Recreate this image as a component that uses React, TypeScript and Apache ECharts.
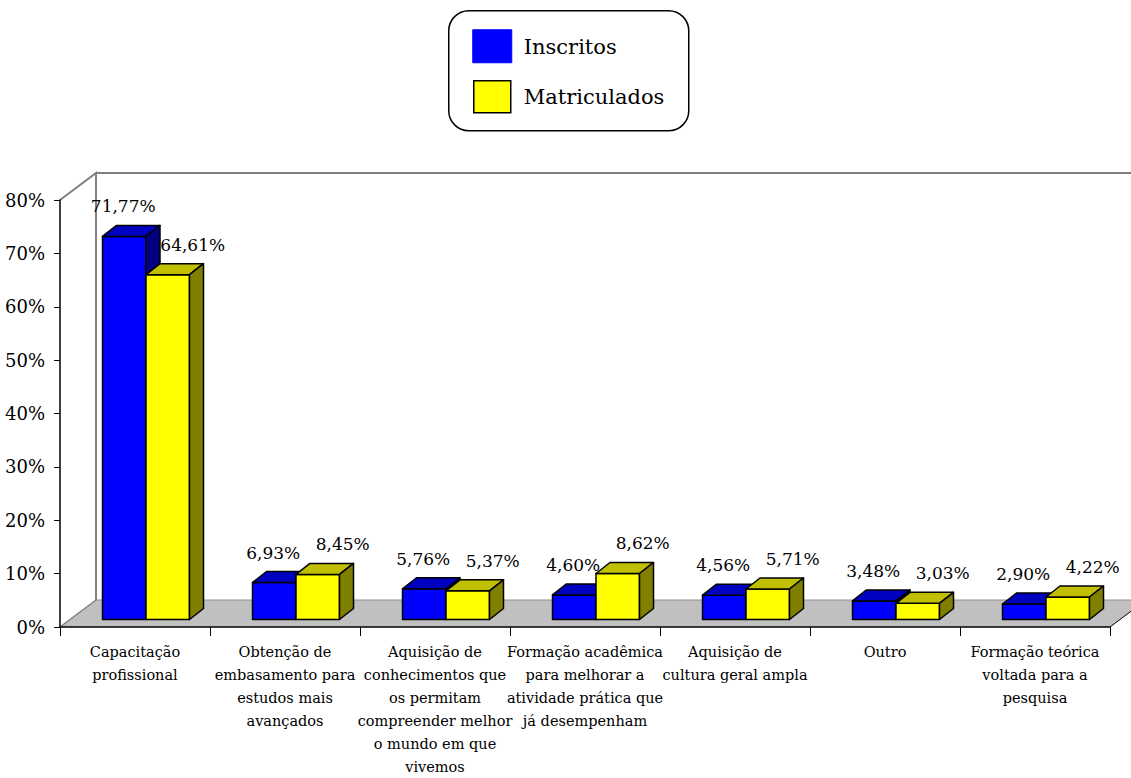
import React, { useEffect, useRef } from "react";
import * as echarts from "echarts";

const categories = [
  "Capacitação\nprofissional",
  "Obtenção de\nembasamento para\nestudos mais\navançados",
  "Aquisição de\nconhecimentos que\nos permitam\ncompreender melhor\no mundo em que\nvivemos",
  "Formação acadêmica\npara melhorar a\natividade prática que\njá desempenham",
  "Aquisição de\ncultura geral ampla",
  "Outro",
  "Formação teórica\nvoltada para a\npesquisa",
];
const inscritos = [71.77, 6.93, 5.76, 4.6, 4.56, 3.48, 2.9];
const matriculados = [64.61, 8.45, 5.37, 8.62, 5.71, 3.03, 4.22];
const seriesNames = ["Inscritos", "Matriculados"];
const yTicks = { min: 0, max: 80, interval: 10 };

const FONT = "DejaVu Serif";

const palettes = [
  { front: "#0000FF", top: "#0000C0", side: "#000080" },
  { front: "#FFFF00", top: "#C0C000", side: "#808000" },
];

function fmt(v: number) {
  return v.toFixed(2).replace(".", ",") + "%";
}

function makeBarRender(k: number) {
  return (params: any, api: any) => {
    const idx = api.value(0);
    const val = api.value(1);
    const base = api.coord([idx, 0]);
    const topP = api.coord([idx, val]);
    const c = base[0];
    const lift = 7.5;
    const bw = 43.5;
    const x1 = c - 32.5 + k * bw;
    const x2 = x1 + bw;
    const yb = base[1] - lift;
    const yt = topP[1] - lift;
    const dx = 14;
    const dy = -11;
    const pal = palettes[k];
    const stroke = { stroke: "#000", lineWidth: 1.5, lineJoin: "round" };
    const labelX = k === 0 ? (x1 + x2) / 2 - 1 : (x1 + x2) / 2 + 25;
    return {
      type: "group",
      children: [
        {
          type: "polygon",
          shape: { points: [[x1, yt], [x2, yt], [x2, yb], [x1, yb]] },
          style: { fill: pal.front, ...stroke },
        },
        {
          type: "polygon",
          shape: { points: [[x1, yt], [x2, yt], [x2 + dx, yt + dy], [x1 + dx, yt + dy]] },
          style: { fill: pal.top, ...stroke },
        },
        {
          type: "polygon",
          shape: { points: [[x2, yt], [x2 + dx, yt + dy], [x2 + dx, yb + dy], [x2, yb]] },
          style: { fill: pal.side, ...stroke },
        },
        {
          type: "text",
          style: {
            text: fmt(val),
            x: labelX,
            y: yt - 30,
            align: "center",
            verticalAlign: "middle",
            textAlign: "center",
            textVerticalAlign: "middle",
            fontSize: 17,
            fontFamily: FONT,
            fill: "#000",
          },
        },
      ],
    };
  };
}

function frameRender(params: any, api: any) {
  const cs = params.coordSys;
  const x0 = cs.x;
  const y0 = cs.y;
  const w = cs.width;
  const h = cs.height;
  const dx = 36;
  const dy = -27;
  const yB = y0 + h;
  const gray = "#808080";
  return {
    type: "group",
    children: [
      {
        type: "polygon",
        shape: { points: [[x0, yB], [x0 + w, yB], [x0 + w + dx, yB + dy], [x0 + dx, yB + dy]] },
        style: { fill: "#C0C0C0", stroke: "none" },
      },
      {
        type: "polyline",
        shape: { points: [[x0, y0], [x0 + dx, y0 + dy], [x0 + dx, yB + dy]] },
        style: { stroke: gray, lineWidth: 2, fill: "none" },
      },
      {
        type: "line",
        shape: { x1: x0 + dx, y1: y0 + dy, x2: x0 + w + 200, y2: y0 + dy },
        style: { stroke: gray, lineWidth: 2 },
      },
      {
        type: "line",
        shape: { x1: x0, y1: yB, x2: x0 + dx, y2: yB + dy },
        style: { stroke: gray, lineWidth: 1.5 },
      },
      {
        type: "line",
        shape: { x1: x0 + dx, y1: yB + dy, x2: x0 + w + 200, y2: yB + dy },
        style: { stroke: "#909090", lineWidth: 1 },
      },
      {
        type: "line",
        shape: { x1: x0 + w, y1: yB, x2: x0 + w + dx, y2: yB + dy },
        style: { stroke: "#000", lineWidth: 1 },
      },
    ],
  };
}

export default function App() {
  const ref = useRef<HTMLDivElement>(null);
  useEffect(() => {
    if (!ref.current) return;
    const chart = echarts.init(ref.current, undefined, { renderer: "svg" });
    const option: any = {
      animation: false,
      backgroundColor: "#fff",
      textStyle: { fontFamily: FONT },
      grid: { left: 60, right: 21, top: 200, bottom: 148, containLabel: false },
      xAxis: {
        type: "category",
        data: categories,
        boundaryGap: true,
        z: 5,
        axisLine: { show: true, lineStyle: { color: "#000", width: 1.5 } },
        axisTick: { show: true, length: 9, alignWithLabel: false, interval: 0, lineStyle: { color: "#000", width: 1 } },
        axisLabel: {
          interval: 0,
          margin: 13,
          fontSize: 14.5,
          lineHeight: 23,
          fontFamily: FONT,
          color: "#000",
          align: "center",
        },
        splitLine: { show: false },
      },
      yAxis: {
        type: "value",
        min: yTicks.min,
        max: yTicks.max,
        interval: yTicks.interval,
        z: 5,
        axisLine: { show: true, lineStyle: { color: "#000", width: 1.5 } },
        axisTick: { show: true, length: 6, lineStyle: { color: "#000", width: 1 } },
        axisLabel: {
          formatter: "{value}%",
          margin: 15,
          fontSize: 18,
          fontFamily: FONT,
          color: "#000",
        },
        splitLine: { show: false },
      },
      graphic: [
        {
          type: "group",
          left: 448,
          top: 10,
          children: [
            {
              type: "rect",
              shape: { x: 0, y: 0, width: 240, height: 120, r: 20 },
              style: { fill: "#fff", stroke: "#000", lineWidth: 1.5 },
            },
            {
              type: "rect",
              shape: { x: 24, y: 19, width: 39, height: 33 },
              style: { fill: palettes[0].front, stroke: palettes[0].front, lineWidth: 1 },
            },
            {
              type: "rect",
              shape: { x: 25, y: 70, width: 37, height: 32 },
              style: { fill: palettes[1].front, stroke: "#000", lineWidth: 1.5 },
            },
            {
              type: "text",
              x: 75,
              y: 36,
              style: {
                text: seriesNames[0],
                fontSize: 21,
                fontFamily: FONT,
                fill: "#000",
                verticalAlign: "middle",
                textVerticalAlign: "middle",
              },
            },
            {
              type: "text",
              x: 75,
              y: 86,
              style: {
                text: seriesNames[1],
                fontSize: 21,
                fontFamily: FONT,
                fill: "#000",
                verticalAlign: "middle",
                textVerticalAlign: "middle",
              },
            },
          ],
        },
      ],
      series: [
        {
          type: "custom",
          name: "frame",
          coordinateSystem: "cartesian2d",
          renderItem: frameRender,
          data: [[0, 0]],
          z: 1,
          silent: true,
          clip: false,
        },
        {
          type: "custom",
          name: seriesNames[0],
          coordinateSystem: "cartesian2d",
          renderItem: makeBarRender(0),
          data: inscritos.map((v, i) => [i, v]),
          encode: { x: 0, y: 1 },
          z: 3,
          clip: false,
        },
        {
          type: "custom",
          name: seriesNames[1],
          coordinateSystem: "cartesian2d",
          renderItem: makeBarRender(1),
          data: matriculados.map((v, i) => [i, v]),
          encode: { x: 0, y: 1 },
          z: 3,
          clip: false,
        },
      ],
    };
    chart.setOption(option);
    return () => chart.dispose();
  }, []);
  return (
    <div
      ref={ref}
      style={{ position: "fixed", left: 0, top: 0, width: 1131, height: 778, background: "#fff" }}
    />
  );
}
